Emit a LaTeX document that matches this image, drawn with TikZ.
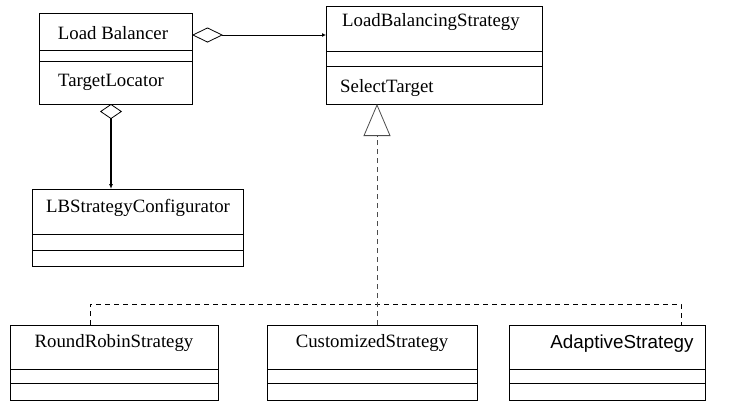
\documentclass[tikz,border=0pt]{standalone}
\usepackage{fontspec}
\setmainfont{Liberation Serif}
\newfontfamily\arialfont{Liberation Sans}
\usetikzlibrary{arrows.meta,calc}

\tikzset{
  cls/.style={draw, line width=0.8pt, anchor=north west, inner sep=0pt, outer sep=0pt},
  lbl/.style={inner sep=0pt, font=\fontsize{18.8}{21}\selectfont},
  sep/.style={line width=0.8pt},
  gen/.style={dashed, dash pattern=on 5pt off 4pt, line width=0.8pt},
}

\begin{document}
\begin{tikzpicture}[x=1pt,y=-1pt]
\useasboundingbox (0,0) rectangle (739,402);

% class boxes
\node[cls, minimum width=153pt, minimum height=91pt] (lb)  at (39,13)  {};
\node[cls, minimum width=216pt, minimum height=98pt] (lbs) at (326,6)  {};
\node[cls, minimum width=211pt, minimum height=77pt] (cfg) at (32,189) {};
\node[cls, minimum width=208pt, minimum height=75pt] (rr)  at (10,325) {};
\node[cls, minimum width=210pt, minimum height=75pt] (cs)  at (267,325) {};
\node[cls, minimum width=196pt, minimum height=75pt] (ad)  at (509,325) {};

% compartment separators
\foreach \b/\p/\q in {lb/37/48, lbs/45/60, cfg/45/61, rr/44/58, cs/44/58, ad/44/58}{
  \draw[sep] ($(\b.north west)+(0,\p)$) -- ($(\b.north east)+(0,\p)$);
  \draw[sep] ($(\b.north west)+(0,\q)$) -- ($(\b.north east)+(0,\q)$);
}

% class names and operations
\node[lbl] (lbname) at (113,33) {Load Balancer};
\node[lbl] (lbop)   at (111,82) {TargetLocator};
\node[lbl, anchor=west] (lbsname) at (342,22) {LoadBalancingStrategy};
\node[lbl, anchor=west] (lbsop)   at (340,88) {SelectTarget};
\node[lbl] (cfgname) at (138,208) {LBStrategyConfigurator};
\node[lbl] (rrname)  at (114,343) {RoundRobinStrategy};
\node[lbl] (csname)  at (372,343) {CustomizedStrategy};
\node[lbl, font=\arialfont\fontsize{18.8}{21}\selectfont] (adname) at (622,344) {AdaptiveStrategy};

% aggregation: Load Balancer -> LoadBalancingStrategy
\coordinate (aggA) at ($(lb.north east)+(0,22)$);
\draw[line width=0.8pt, {Diamond[open,length=31pt,width=15pt]}-{Latex[length=4pt,width=4pt]}]
  (aggA) -- (aggA -| lbs.west);

% aggregation: Load Balancer -> LBStrategyConfigurator
\coordinate (aggB) at ($(lb.south west)+(72,0)$);
\draw[line width=1.3pt, {Diamond[open,length=15pt,width=22pt,line width=0.8pt]}-{Latex[length=5pt,width=4pt]}]
  (aggB) -- (aggB |- cfg.north);

% realization of LoadBalancingStrategy
\coordinate (gRR) at ($(rr.north west)+(80,0)$);
\coordinate (gCS) at ($(cs.north west)+(110,0)$);
\coordinate (gAD) at ($(ad.north west)+(172,0)$);
\coordinate (bus) at ($(gAD)+(0,-21)$);
\draw[gen] (gRR) |- (bus) -- (gAD);
\draw[gen, draw=black!70, -{Triangle[open,length=32pt,width=27pt,line width=0.8pt,sep=0pt]}]
  (gCS) -- (gCS |- lbs.south);
\end{tikzpicture}
\end{document}
